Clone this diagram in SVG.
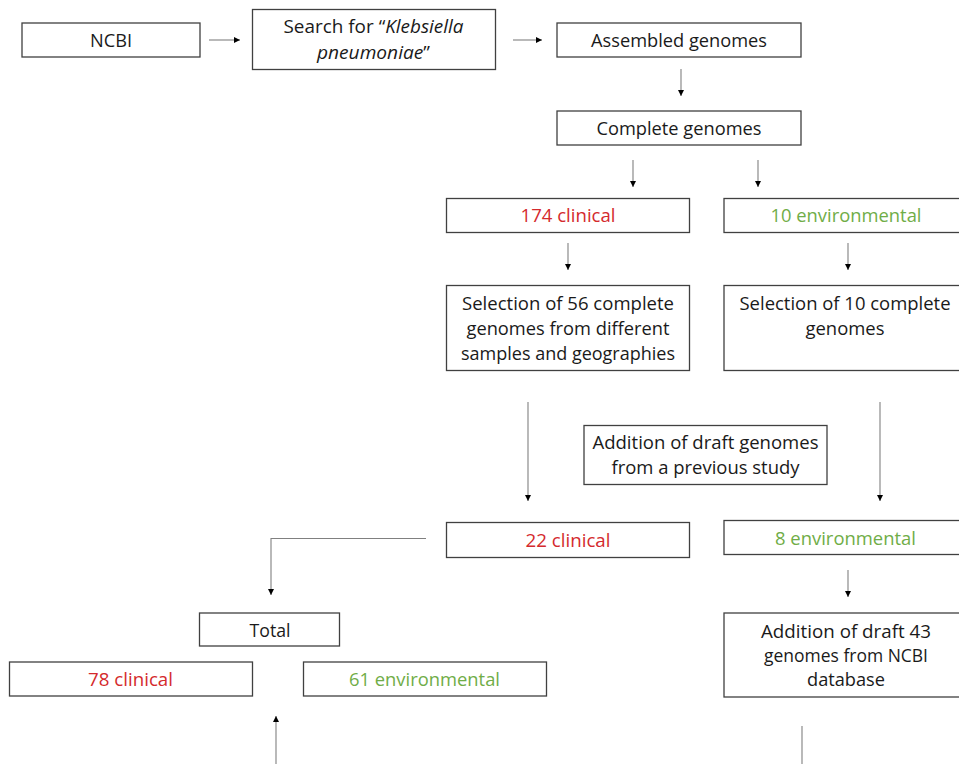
<svg xmlns="http://www.w3.org/2000/svg" width="959" height="764" viewBox="0 0 959 764">
  <style>
    .box { fill: #ffffff; stroke: #404040; stroke-width: 1.3; }
    .t { font-family: "Open Sans", "Noto Sans", "Liberation Sans", sans-serif; font-size: 18px; fill: #1a1a1a; text-anchor: middle; }
    .red { fill: #d42a2d; }
    .green { fill: #70ad47; }
    .it { font-style: italic; }
    .conn { fill: none; stroke: #808080; stroke-width: 1.1; }
  </style>
  <defs>
    <marker id="arrow" markerUnits="userSpaceOnUse" markerWidth="7" markerHeight="7" refX="6" refY="3" orient="auto">
      <path d="M0,0 L6,3 L0,6 z" fill="#000000"/>
    </marker>
  </defs>
  <rect width="959" height="764" fill="#ffffff"/>

  <g id="connectors">
    <line class="conn" x1="209" y1="40" x2="240" y2="40" marker-end="url(#arrow)"/>
    <line class="conn" x1="513" y1="40" x2="542" y2="40" marker-end="url(#arrow)"/>
    <line class="conn" x1="681" y1="69" x2="681" y2="96" marker-end="url(#arrow)"/>
    <line class="conn" x1="633" y1="160" x2="633" y2="187" marker-end="url(#arrow)"/>
    <line class="conn" x1="758" y1="160" x2="758" y2="187" marker-end="url(#arrow)"/>
    <line class="conn" x1="568" y1="243" x2="568" y2="270" marker-end="url(#arrow)"/>
    <line class="conn" x1="848" y1="243" x2="848" y2="270" marker-end="url(#arrow)"/>
    <line class="conn" x1="528" y1="402" x2="528" y2="501" marker-end="url(#arrow)"/>
    <line class="conn" x1="880" y1="402" x2="880" y2="501" marker-end="url(#arrow)"/>
    <polyline class="conn" points="426,538.5 271,538.5 271,595" marker-end="url(#arrow)"/>
    <line class="conn" x1="848" y1="570" x2="848" y2="597" marker-end="url(#arrow)"/>
    <line class="conn" x1="276" y1="764" x2="276" y2="716" marker-end="url(#arrow)"/>
    <line class="conn" x1="802" y1="726" x2="802" y2="764"/>
  </g>

  <g id="ncbi">
    <rect class="box" x="22" y="23" width="178" height="34"/>
    <text class="t" x="111" y="46.5" textLength="42" lengthAdjust="spacingAndGlyphs">NCBI</text>
  </g>

  <g id="search">
    <rect class="box" x="252.5" y="9.5" width="243" height="60"/>
    <text class="t" x="373.5" y="33" textLength="180" lengthAdjust="spacingAndGlyphs">Search for “<tspan class="it">Klebsiella</tspan></text>
    <text class="t" x="373.5" y="59" textLength="113" lengthAdjust="spacingAndGlyphs"><tspan class="it">pneumoniae</tspan>”</text>
  </g>

  <g id="assembled">
    <rect class="box" x="557" y="23" width="244" height="34"/>
    <text class="t" x="679" y="47" textLength="176" lengthAdjust="spacingAndGlyphs">Assembled genomes</text>
  </g>

  <g id="complete">
    <rect class="box" x="557" y="111" width="244" height="34"/>
    <text class="t" x="679" y="135" textLength="165" lengthAdjust="spacingAndGlyphs">Complete genomes</text>
  </g>

  <g id="clinical-174">
    <rect class="box" x="446.5" y="198.5" width="243" height="34"/>
    <text class="t red" x="568" y="222" textLength="95" lengthAdjust="spacingAndGlyphs">174 clinical</text>
  </g>

  <g id="environmental-10">
    <rect class="box" x="724" y="198.5" width="250" height="34"/>
    <text class="t green" x="846" y="222" textLength="151" lengthAdjust="spacingAndGlyphs">10 environmental</text>
  </g>

  <g id="selection-56">
    <rect class="box" x="446.5" y="285.5" width="243" height="85"/>
    <text class="t" x="568" y="310" textLength="212" lengthAdjust="spacingAndGlyphs">Selection of 56 complete</text>
    <text class="t" x="568" y="335" textLength="203" lengthAdjust="spacingAndGlyphs">genomes from different</text>
    <text class="t" x="568" y="360" textLength="214" lengthAdjust="spacingAndGlyphs">samples and geographies</text>
  </g>

  <g id="selection-10">
    <rect class="box" x="724" y="285.5" width="250" height="85"/>
    <text class="t" x="845" y="310" textLength="211" lengthAdjust="spacingAndGlyphs">Selection of 10 complete</text>
    <text class="t" x="845" y="335" textLength="79" lengthAdjust="spacingAndGlyphs">genomes</text>
  </g>

  <g id="draft-previous">
    <rect class="box" x="584" y="425.5" width="243" height="59"/>
    <text class="t" x="705.5" y="449" textLength="226" lengthAdjust="spacingAndGlyphs">Addition of draft genomes</text>
    <text class="t" x="705.5" y="474" textLength="188" lengthAdjust="spacingAndGlyphs">from a previous study</text>
  </g>

  <g id="clinical-22">
    <rect class="box" x="446.5" y="522.5" width="243" height="35"/>
    <text class="t red" x="568" y="547" textLength="85" lengthAdjust="spacingAndGlyphs">22 clinical</text>
  </g>

  <g id="environmental-8">
    <rect class="box" x="724" y="520.5" width="250" height="34"/>
    <text class="t green" x="845.5" y="545" textLength="141" lengthAdjust="spacingAndGlyphs">8 environmental</text>
  </g>

  <g id="total">
    <rect class="box" x="199.5" y="613" width="140" height="33"/>
    <text class="t" x="270" y="636.5" textLength="41" lengthAdjust="spacingAndGlyphs">Total</text>
  </g>

  <g id="clinical-78">
    <rect class="box" x="9.5" y="662" width="243" height="34"/>
    <text class="t red" x="130.5" y="686" textLength="85" lengthAdjust="spacingAndGlyphs">78 clinical</text>
  </g>

  <g id="environmental-61">
    <rect class="box" x="303.5" y="662" width="243" height="34"/>
    <text class="t green" x="424.5" y="686" textLength="151" lengthAdjust="spacingAndGlyphs">61 environmental</text>
  </g>

  <g id="draft-ncbi">
    <rect class="box" x="724" y="613" width="250" height="84"/>
    <text class="t" x="846" y="638" textLength="170" lengthAdjust="spacingAndGlyphs">Addition of draft 43</text>
    <text class="t" x="846" y="662" textLength="164" lengthAdjust="spacingAndGlyphs">genomes from NCBI</text>
    <text class="t" x="846" y="686" textLength="78" lengthAdjust="spacingAndGlyphs">database</text>
  </g>
</svg>
